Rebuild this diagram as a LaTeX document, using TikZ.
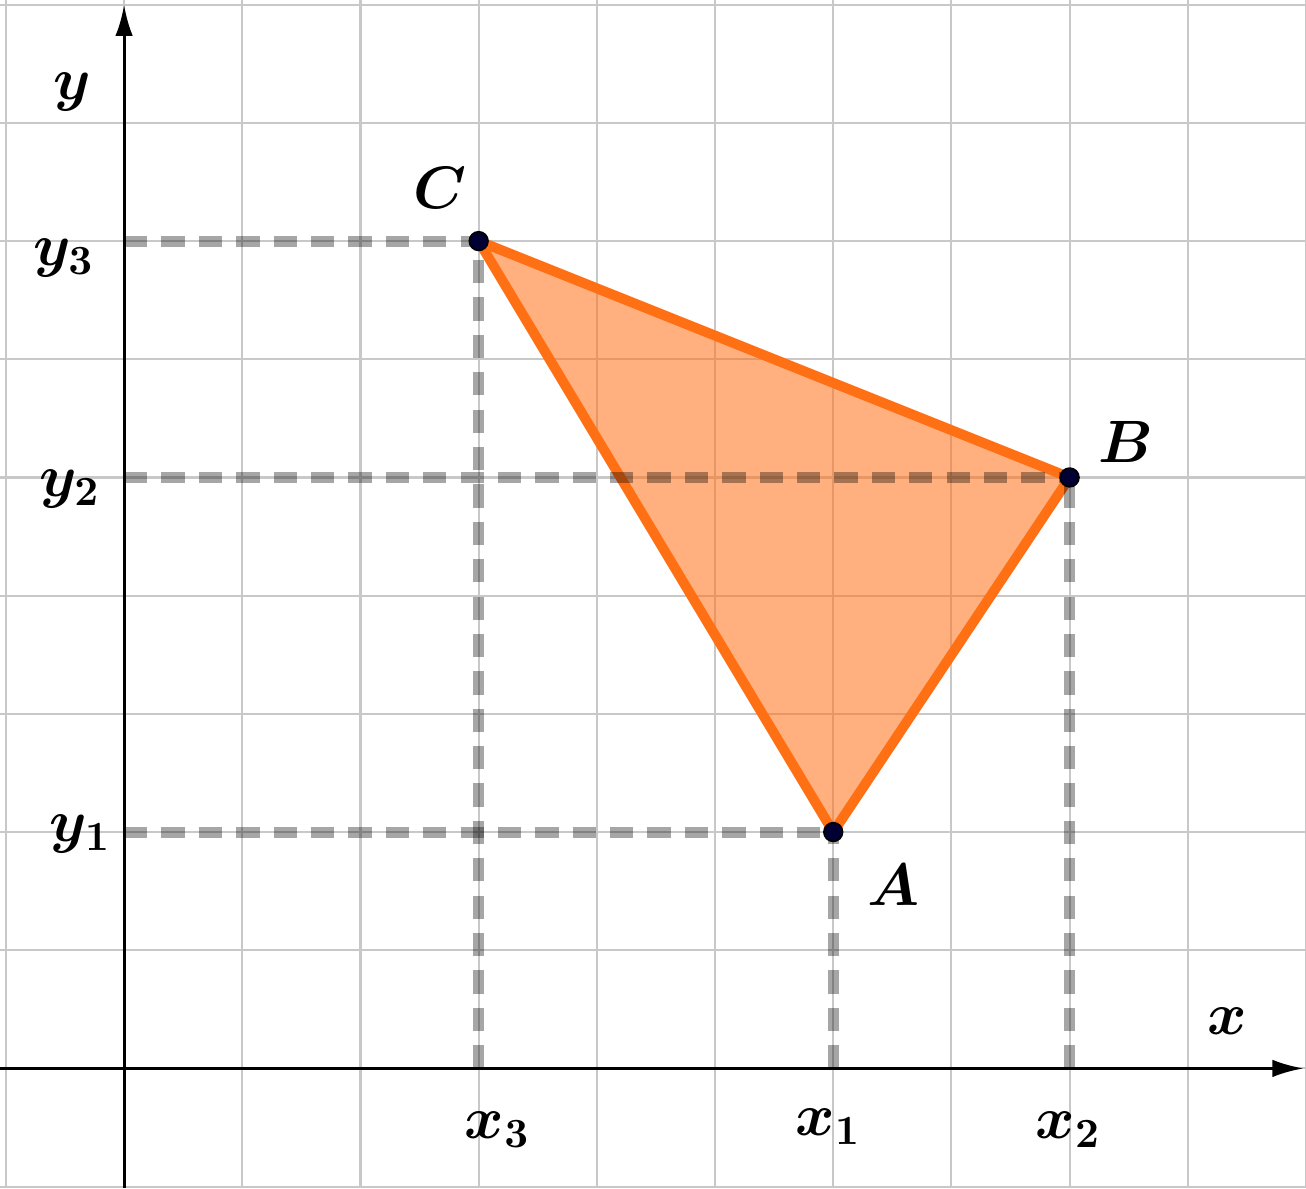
\documentclass[tikz,border=0pt]{standalone}
\usepackage{bm}
\usetikzlibrary{arrows.meta}
\definecolor{triedge}{HTML}{FF7014}
\definecolor{trifill}{HTML}{FF7014}
\definecolor{gridgray}{HTML}{C8C8C8}
\definecolor{dotnavy}{HTML}{000033}
\begin{document}
\begin{tikzpicture}[
  dashline/.style={line width=2.65pt,black,opacity=0.35,dash pattern=on 5.6pt off 3.4pt},
  dot/.style={circle,draw=black,fill=dotnavy,line width=0.4pt,inner sep=0pt,minimum size=4.5pt},
  lbl/.style={font=\Large}
]
\useasboundingbox (-1.05,-1.015) rectangle (10,9.04);
% grid and axes
\draw[gridgray,line width=0.5pt] (-1.05,-1.015) grid (10,9.04);
\draw[line width=0.75pt,-{Latex[length=7.5pt,width=4.2pt]}] (-1.05,0) -- (9.98,0);
\draw[line width=0.75pt,-{Latex[length=7.5pt,width=4.2pt]}] (0,-1.015) -- (0,9.0);
% vertices and their projections
\coordinate (pA) at (6,2);
\coordinate (pB) at (8,5);
\coordinate (pC) at (3,7);
\coordinate (X1) at (6,0);
\coordinate (X2) at (8,0);
\coordinate (X3) at (3,0);
\coordinate (Y1) at (0,2);
\coordinate (Y2) at (0,5);
\coordinate (Y3) at (0,7);
% triangle
\fill[trifill,opacity=0.55] (pA) -- (pB) -- (pC) -- cycle;
\draw[triedge,line width=2.4pt,line join=round] (pA) -- (pB) -- (pC) -- cycle;
\draw[dashline] (Y1) -- (pA);
\draw[dashline] (X1) -- (pA);
\draw[dashline] (Y2) -- (pB);
\draw[dashline] (X2) -- (pB);
\draw[dashline] (Y3) -- (pC);
\draw[dashline] (X3) -- (pC);
\node[dot] (A) at (pA) {};
\node[dot] (B) at (pB) {};
\node[dot] (C) at (pC) {};
% labels
\node[lbl] (labA) at (6.51,1.55) {$\bm{A}$};
\node[lbl] (labB) at (8.48,5.30) {$\bm{B}$};
\node[lbl] (labC) at (2.67,7.45) {$\bm{C}$};
\node[lbl] (labx) at (9.33,0.40) {$\bm{x}$};
\node[lbl] (laby) at (-0.44,8.26) {$\bm{y}$};
\node[lbl] (labx1) at (5.96,-0.49) {$\bm{x_1}$};
\node[lbl] (labx2) at (7.99,-0.52) {$\bm{x_2}$};
\node[lbl] (labx3) at (3.16,-0.52) {$\bm{x_3}$};
\node[lbl] (laby1) at (-0.37,1.98) {$\bm{y_1}$};
\node[lbl] (laby2) at (-0.46,4.90) {$\bm{y_2}$};
\node[lbl] (laby3) at (-0.51,6.86) {$\bm{y_3}$};
\end{tikzpicture}
\end{document}
